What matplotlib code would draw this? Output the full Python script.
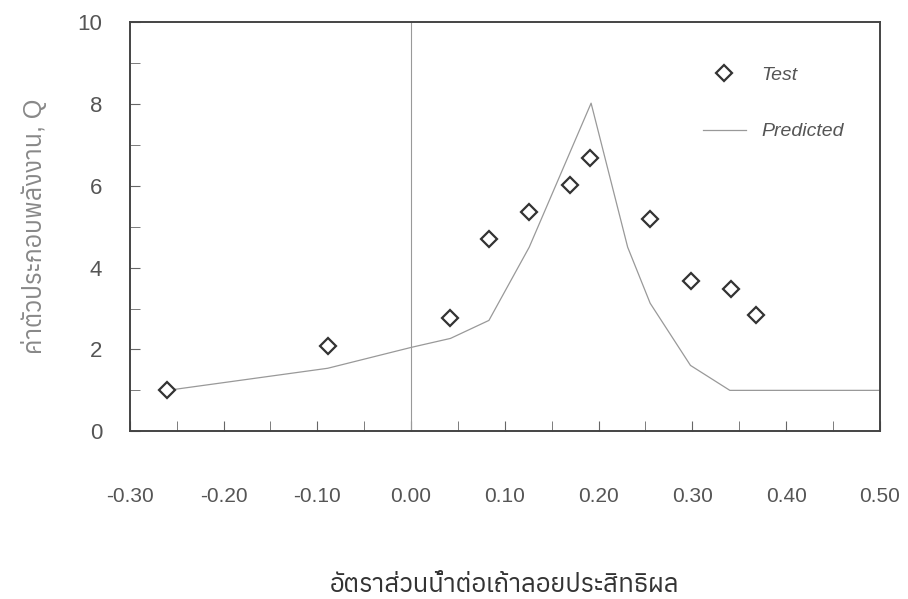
import numpy as np
import matplotlib
matplotlib.use("Agg")
import matplotlib.pyplot as plt
from matplotlib import font_manager
from matplotlib.ft2font import FT2Font

# หาฟอนต์ที่มีอักษรไทย
thai_fonts = []
for f in font_manager.fontManager.ttflist:
    try:
        if 0x0E01 in FT2Font(f.fname).get_charmap():
            thai_fonts.append(f.name)
    except Exception:
        pass
thai_fonts = sorted(set(thai_fonts))

plt.rcParams["font.family"] = ["Liberation Sans"] + thai_fonts + ["DejaVu Sans"]

# ข้อมูลจากการทดสอบ
test_x = [-0.26, -0.089, 0.041, 0.083, 0.126, 0.170, 0.191, 0.255, 0.299, 0.341, 0.368]
test_q = [1.00, 2.08, 2.76, 4.69, 5.35, 6.01, 6.67, 5.18, 3.67, 3.47, 2.84]

# ค่าทำนาย
pred_x = [-0.26, -0.089, 0.0, 0.042, 0.083, 0.126, 0.192, 0.231, 0.255, 0.298, 0.340, 0.50]
pred_q = [1.00, 1.54, 2.05, 2.27, 2.71, 4.50, 8.02, 4.50, 3.13, 1.61, 1.00, 1.00]

xticks = [-0.30, -0.20, -0.10, 0.00, 0.10, 0.20, 0.30, 0.40, 0.50]
yticks = [0, 2, 4, 6, 8, 10]

grey = "#555555"

fig = plt.figure(figsize=(9.08, 5.99), dpi=100)
ax = fig.add_axes([0.143, 0.280, 0.826, 0.683])

ax.axvline(0, color="#999999", lw=0.8)
ax.plot(pred_x, pred_q, color="#999999", lw=0.9, label="Predicted")
ax.plot(test_x, test_q, ls="none", marker="D", ms=8, mfc="white", mec="#333333",
        mew=1.6, label="Test")

ax.set_xlim(-0.30, 0.50)
ax.set_ylim(0, 10)
ax.set_xticks(xticks)
ax.set_xticklabels([f"{v:.2f}" for v in xticks])
ax.set_xticks(np.arange(-0.30, 0.501, 0.05), minor=True)
ax.set_yticks(yticks)
ax.set_yticks(range(0, 11), minor=True)

ax.tick_params(axis="x", which="major", direction="in", length=7, pad=40,
               labelsize=15, labelcolor=grey, color="#666666")
ax.tick_params(axis="x", which="minor", direction="in", length=7, color="#666666")
ax.tick_params(axis="y", which="both", direction="in", length=7, pad=20,
               labelsize=16, labelcolor=grey, color="#666666")

for s in ax.spines.values():
    s.set_color("#444444")
    s.set_linewidth(1.4)

ax.set_xlabel("อัตราส่วนน้ำต่อเถ้าลอยประสิทธิผล", fontsize=18.5, color="#333333",
              labelpad=48)
ax.set_ylabel("ค่าตัวประกอบพลังงาน, Q", fontsize=18, color="#888888", labelpad=22)

h, l = ax.get_legend_handles_labels()
leg = ax.legend(h[::-1], l[::-1], loc="upper right", bbox_to_anchor=(0.975, 0.935),
                frameon=False, prop={"family": "Liberation Sans", "style": "italic", "size": 14},
                labelcolor=grey, handlelength=2.2, labelspacing=2.0)

fig.savefig("out.png", dpi=100)
